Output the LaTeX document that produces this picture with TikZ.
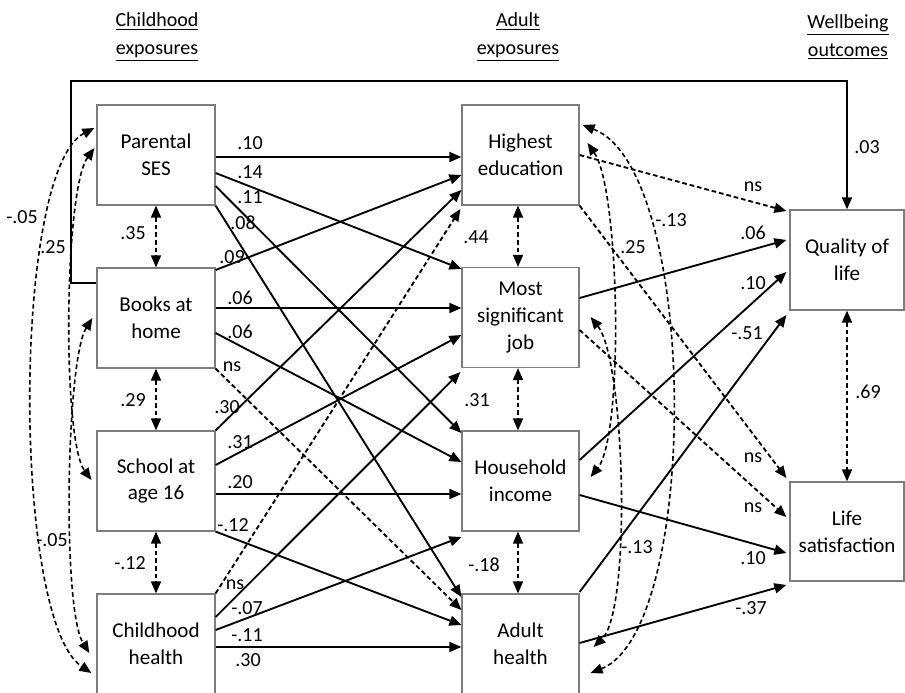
\documentclass[tikz,border=0pt]{standalone}
\usepackage{fontspec}
\setmainfont{Carlito}
\usetikzlibrary{arrows.meta,calc}

\definecolor{boxgray}{RGB}{125,125,125}

\tikzset{every picture/.style={line width=0.75pt}}
\tikzset{
  varbox/.style={draw=boxgray, line width=0.9pt, align=center, inner sep=0pt,
    minimum width=88.5pt, minimum height=75pt, font=\fontsize{15.8}{20}\selectfont},
  head/.style={align=center, inner sep=0pt, font=\fontsize{15}{21}\selectfont},
  lbl/.style={inner sep=0pt},
  effect/.style={line width=1.4pt, -{Triangle[length=9pt,width=7.5pt]}},
  nseffect/.style={effect, dash pattern=on 3.5pt off 2.2pt},
  corr/.style={line width=1.2pt, dash pattern=on 3.5pt off 2.2pt,
    {Triangle[length=9pt,width=7.5pt]}-{Triangle[length=9pt,width=7.5pt]}}
}

\begin{document}
\begin{tikzpicture}[x=0.75pt,y=0.75pt,yscale=-1,xscale=1,font=\fontsize{15}{20}\selectfont]
\useasboundingbox (0,0) rectangle (905,692);
\clip (0,0) rectangle (905,692);

% Headings
\node[head] (hchild) at (157,37) {\underline{Childhood}\\\underline{exposures}};
\node[head] (hadult) at (518,37) {\underline{Adult}\\\underline{exposures}};
\node[head] (hwell) at (848,37) {\underline{Wellbeing}\\\underline{outcomes}};

% Childhood exposures
\node[varbox] (P) at (156,155) {Parental\\SES};
\node[varbox] (B) at (156,318) {Books at\\home};
\node[varbox] (S) at (156,481) {School at\\age 16};
\node[varbox] (C) at (156,644) {Childhood\\health};

% Adult exposures
\node[varbox, minimum width=87.75pt] (E) at (520.5,155) {Highest\\education};
\node[varbox, minimum width=87.75pt] (J) at (520.5,317.5) {Most\\significant\\job};
\node[varbox, minimum width=87.75pt] (H) at (520.5,481) {Household\\income};
\node[varbox, minimum width=87.75pt] (A) at (520.5,644) {Adult\\health};

% Wellbeing outcomes
\node[varbox, minimum width=85.5pt] (Q) at (847,260) {Quality of\\life};
\node[varbox, minimum width=85.5pt, minimum height=74.25pt] (L) at (847,531.5) {Life\\satisfaction};

% Books at home -> Quality of life
\draw[effect] ($(B.west)+(0,-35)$) -- ++(-25,0) |- ($(Q.north)+(0,-128)$) -- (Q.north);
\node[lbl] (w03) at (867,147) {.03};

% Correlations, childhood
\draw[corr] (P.south) -- (B.north);
\draw[corr] (B.south) -- (S.north);
\draw[corr] (S.south) -- (C.north);
\node[lbl] (rpb) at (133,233) {.35};
\node[lbl] (rbs) at (133,400) {.29};
\node[lbl] (rsc) at (130,563) {-.12};
\draw[corr] ($(P.west)+(-2,-27)$) .. controls (12,170) and (12,620) .. ($(C.west)+(-5,29)$);
\draw[corr] ($(P.west)+(-2,-7)$) .. controls (64,190) and (62,440) .. ($(S.west)+(-5,-1)$);
\draw[corr] ($(B.west)+(-4,0)$) .. controls (66,360) and (62,610) .. ($(C.west)+(-7,9)$);
\node[lbl] (rpc) at (22,217) {-.05};
\node[lbl] (rps) at (53,247) {.25};
\node[lbl] (rbc) at (52,540) {-.05};

% Parental SES -> adult
\draw[effect] ($(P.east)+(0,2)$) -- ($(E.west)+(0,2)$);
\draw[effect] ($(P.east)+(0,18)$) -- ($(J.west)+(0,-48.5)$);
\draw[effect] ($(P.east)+(0,31)$) -- ($(H.west)+(0,-48)$);
\draw[effect] (P.south east) -- ($(A.west)+(0,-47)$);
\node[lbl] (wpe) at (250,143) {.10};
\node[lbl] (wpj) at (250,172) {.14};
\node[lbl] (wph) at (250,197) {.11};
\node[lbl] (wpa) at (243,223) {.08};

% Books at home -> adult
\draw[effect] ($(B.east)+(0,-48)$) -- ($(E.west)+(0,20)$);
\draw[effect] ($(B.east)+(0,-10)$) -- ($(J.west)+(0,-9.5)$);
\draw[effect] ($(B.east)+(0,15)$) -- ($(H.west)+(0,-19)$);
\draw[nseffect] (B.south east) -- ($(A.west)+(0,-34)$);
\node[lbl] (wbe) at (232,257) {.09};
\node[lbl] (wbj) at (240,298) {.06};
\node[lbl] (wbh) at (240,332) {.06};
\node[lbl] (wba) at (232,367) {ns};

% School at age 16 -> adult
\draw[effect] (S.north east) -- ($(E.west)+(0,35)$);
\draw[effect] ($(S.east)+(0,-16)$) -- ($(J.west)+(0,17.5)$);
\draw[effect] ($(S.east)+(0,13)$) -- ($(H.west)+(0,13)$);
\draw[effect] (S.south east) -- ($(A.west)+(0,-19)$);
\node[lbl] (wse) at (227,407) {.30};
\node[lbl] (wsj) at (240,442) {.31};
\node[lbl] (wsh) at (240,482) {.20};
\node[lbl] (wsa) at (233,525) {-.12};

% Childhood health -> adult
\draw[nseffect] (C.north east) -- ($(E.west)+(-1,54)$);
\draw[effect] ($(C.east)+(0,-27)$) -- ($(J.west)+(-1,54.5)$);
\draw[effect] ($(C.east)+(0,-14)$) -- ($(H.west)+(0,56)$);
\draw[effect] ($(C.east)+(0,3)$) -- ($(A.west)+(0,3)$);
\node[lbl] (wce) at (235,585) {ns};
\node[lbl] (wcj) at (247,608) {-.07};
\node[lbl] (wch) at (247,635) {-.11};
\node[lbl] (wca) at (248,660) {.30};

% Correlations, adult
\draw[corr] ($(E.south)+(-2.5,0)$) -- ($(J.north)+(-2.5,0)$);
\draw[corr] ($(J.south)+(-2.5,0)$) -- ($(H.north)+(-2.5,0)$);
\draw[corr] ($(H.south)+(-2.5,0)$) -- ($(A.north)+(-2.5,0)$);
\node[lbl] (rej) at (476,237) {.44};
\node[lbl] (rjh) at (477,400) {.31};
\node[lbl] (rha) at (484,565) {-.18};
\draw[corr] ($(E.east)+(3,-30)$) .. controls (700,170) and (700,630) .. ($(A.east)+(11,29)$);
\draw[corr] ($(E.east)+(8,-12)$) .. controls (620,190) and (624,435) .. ($(H.east)+(11,-4)$);
\draw[corr] ($(J.east)+(11,-0.5)$) .. controls (625,360) and (632,610) .. ($(A.east)+(14,3)$);
\node[lbl] (rea) at (671,220) {-.13};
\node[lbl] (reh) at (633,247) {.25};
\node[lbl] (rja) at (637,547) {-.13};

% Adult -> wellbeing
\draw[nseffect] (E.east) -- ($(Q.west)+(-3,-49)$);
\draw[nseffect] (E.south east) -- ($(L.west)+(-3,-53.5)$);
\draw[effect] ($(J.east)+(0,-19.5)$) -- ($(Q.west)+(-3,-20)$);
\draw[nseffect] ($(J.east)+(0,12.5)$) -- ($(L.west)+(-3,-14.5)$);
\draw[effect] ($(H.east)+(0,-21)$) -- ($(Q.west)+(-3,12)$);
\draw[effect] ($(H.east)+(0,14)$) -- ($(L.west)+(-3,21.5)$);
\draw[effect] ($(A.east)+(0,-52)$) -- ($(Q.west)+(-3,55)$);
\draw[effect] ($(A.east)+(0,-1)$) -- ($(L.west)+(-3,53.5)$);
\node[lbl] (weq) at (753,187) {ns};
\node[lbl] (wjq) at (753,233) {.06};
\node[lbl] (whq) at (753,283) {.10};
\node[lbl] (waq) at (747,333) {-.51};
\node[lbl] (wel) at (753,458) {ns};
\node[lbl] (wjl) at (753,508) {ns};
\node[lbl] (whl) at (753,558) {.10};
\node[lbl] (wal) at (751,608) {-.37};

% Correlation, wellbeing
\draw[corr] (Q.south) -- (L.north);
\node[lbl] (rql) at (868,392) {.69};

\end{tikzpicture}
\end{document}
